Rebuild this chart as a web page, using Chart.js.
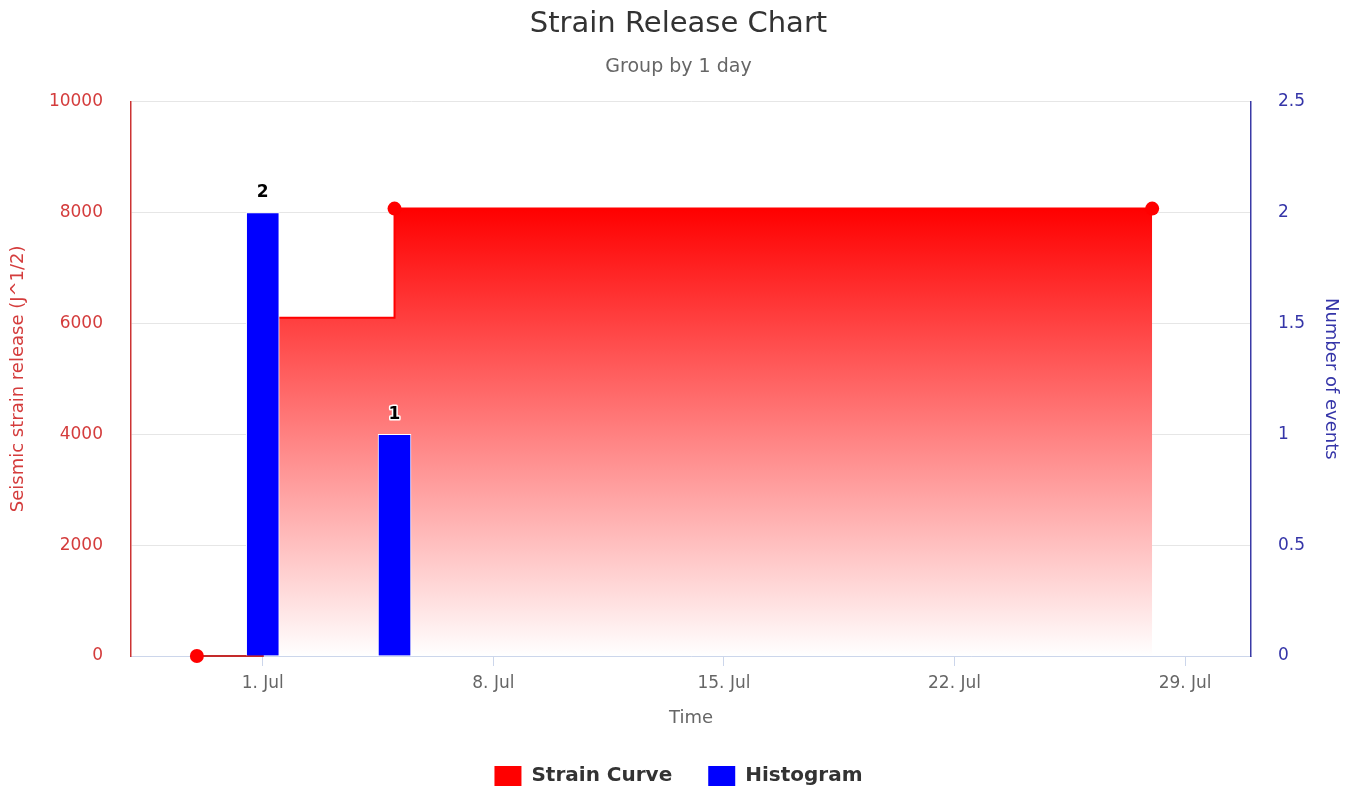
<!DOCTYPE html>
<html><head><meta charset="utf-8">
<script src="https://cdn.jsdelivr.net/npm/chart.js@4.4.0/dist/chart.umd.min.js"></script>
<style>html,body{margin:0;padding:0;background:#fff;}</style>
</head><body>
<canvas id="c" width="1357" height="789"></canvas>
<script>
// ---- data ----
const strainDates = ['2021-06-29', '2021-07-01', '2021-07-05', '2021-07-28'];
const strainValues = [0, 6100, 8070, 8070];
const histDates = ['2021-07-01', '2021-07-02', '2021-07-03', '2021-07-04', '2021-07-05'];
const histCounts = [2, 0, 0, 0, 1];
const xTickDates = ['2021-07-01', '2021-07-08', '2021-07-15', '2021-07-22', '2021-07-29'];
const xRangeDates = ['2021-06-27', '2021-07-31'];
const monthNames = ['Jan','Feb','Mar','Apr','May','Jun','Jul','Aug','Sep','Oct','Nov','Dec'];

const FONT = '"DejaVu Sans", "Lucida Grande", sans-serif';
const toMs = s => { const [y,m,d] = s.split('-').map(Number); return Date.UTC(y, m-1, d); };
const fmtDate = v => { const d = new Date(v); return d.getUTCDate() + '. ' + monthNames[d.getUTCMonth()]; };

const strainPoints = strainDates.map((d, i) => ({x: toMs(d), y: strainValues[i]}));
const histPoints = histDates.map((d, i) => ({x: toMs(d), y: histCounts[i]}));

const barLabels = {
  id: 'barLabels',
  afterDatasetsDraw(chart) {
    const meta = chart.getDatasetMeta(1);
    const ctx = chart.ctx;
    ctx.save();
    ctx.font = 'bold 17px ' + FONT;
    ctx.textAlign = 'center';
    ctx.textBaseline = 'middle';
    ctx.lineJoin = 'round';
    ctx.lineWidth = 3;
    ctx.strokeStyle = '#ffffff';
    ctx.fillStyle = '#000000';
    meta.data.forEach((el, i) => {
      const v = histCounts[i];
      if (!v) return;
      ctx.strokeText(String(v), el.x, el.y - 20);
      ctx.fillText(String(v), el.x, el.y - 20);
    });
    ctx.restore();
  }
};

const legendColors = ['#ff0000', '#0000ff'];

new Chart(document.getElementById('c'), {
  data: {
    datasets: [
      {
        type: 'line',
        label: 'Strain Curve',
        data: strainPoints,
        yAxisID: 'y',
        stepped: 'before',
        borderColor: '#ff0000',
        borderWidth: 2,
        pointRadius: 7,
        pointBorderWidth: 0,
        pointBackgroundColor: '#ff0000',
        fill: 'origin',
        clip: false,
        order: 2,
        segment: {
          borderColor: (s) => (s.p0.parsed.y === 0 && s.p1.parsed.y !== 0 ? '#c42a2a' : undefined)
        },
        backgroundColor: (c) => {
          const chart = c.chart;
          const {chartArea, scales} = chart;
          if (!chartArea || !scales.y) return '#ff0000';
          const top = scales.y.getPixelForValue(Math.max(...strainValues));
          const bottom = scales.y.getPixelForValue(0);
          const g = chart.ctx.createLinearGradient(0, top, 0, bottom);
          g.addColorStop(0, 'rgba(255,0,0,1)');
          g.addColorStop(1, 'rgba(255,255,255,1)');
          return g;
        }
      },
      {
        type: 'bar',
        label: 'Histogram',
        data: histPoints,
        yAxisID: 'y1',
        backgroundColor: (c) => (c.raw && c.raw.y > 0 ? '#0000ff' : 'rgba(0,0,0,0)'),
        borderColor: '#ffffff',
        borderWidth: (c) => (c.raw && c.raw.y > 0 ? 1 : 0),
        barPercentage: 1,
        categoryPercentage: 1,
        order: 1
      }
    ]
  },
  options: {
    responsive: false,
    devicePixelRatio: 1,
    animation: false,
    layout: {padding: 0},
    scales: {
      x: {
        type: 'linear',
        min: toMs(xRangeDates[0]),
        max: toMs(xRangeDates[1]),
        offset: false,
        afterBuildTicks: (s) => { s.ticks = xTickDates.map(d => ({value: toMs(d)})); },
        afterFit: (s) => { s.height = 74; },
        ticks: {
          color: '#666666',
          font: {family: FONT, size: 17},
          padding: 7,
          autoSkip: false,
          maxRotation: 0,
          callback: (v) => fmtDate(v)
        },
        grid: {offset: false, drawOnChartArea: false, drawTicks: true, tickLength: 10, color: '#ccd6eb'},
        border: {color: '#ccd6eb', width: 1},
        title: {display: true, text: 'Time', color: '#666666', font: {family: FONT, size: 18}, padding: {top: 0, bottom: 1}}
      },
      y: {
        position: 'left',
        min: 0,
        max: 10000,
        afterFit: (s) => { s.width = 131; },
        ticks: {
          stepSize: 2000,
          color: '#d43c3c',
          font: {family: FONT, size: 17},
          padding: 28,
          callback: (v) => String(v)
        },
        grid: {color: '#e6e6e6', drawTicks: false},
        border: {display: true, color: '#cc3333', width: 1.5},
        title: {display: true, text: 'Seismic strain release (J^1/2)', color: '#d43c3c', font: {family: FONT, size: 18}, padding: {top: 8, bottom: 0}}
      },
      y1: {
        position: 'right',
        min: 0,
        max: 2.5,
        afterFit: (s) => { s.width = 106; },
        ticks: {
          stepSize: 0.5,
          color: '#3535a8',
          font: {family: FONT, size: 17},
          padding: 27,
          callback: (v) => String(v)
        },
        grid: {drawOnChartArea: false, drawTicks: false},
        border: {display: true, color: '#3a3aa6', width: 1.5},
        title: {display: true, text: 'Number of events', color: '#3535a8', font: {family: FONT, size: 18}, padding: {top: 16, bottom: 0}}
      }
    },
    plugins: {
      title: {display: true, text: 'Strain Release Chart', color: '#333333', font: {family: FONT, size: 29, weight: 'normal'}, padding: {top: 7, bottom: 0}},
      subtitle: {display: true, text: 'Group by 1 day', color: '#666666', font: {family: FONT, size: 19, weight: 'normal'}, padding: {top: 14, bottom: 23}},
      legend: {
        position: 'bottom',
        maxHeight: 59,
        labels: {
          boxWidth: 27,
          boxHeight: 20,
          padding: 36,
          color: '#333333',
          font: {family: FONT, size: 20, weight: 'bold'},
          sort: (a, b) => a.datasetIndex - b.datasetIndex,
          generateLabels: (chart) => {
            const items = Chart.defaults.plugins.legend.labels.generateLabels(chart);
            items.forEach(it => {
              it.fillStyle = legendColors[it.datasetIndex];
              it.strokeStyle = legendColors[it.datasetIndex];
              it.lineWidth = 0;
            });
            return items;
          }
        }
      },
      tooltip: {enabled: false}
    }
  },
  plugins: [barLabels]
});
</script>
</body></html>
